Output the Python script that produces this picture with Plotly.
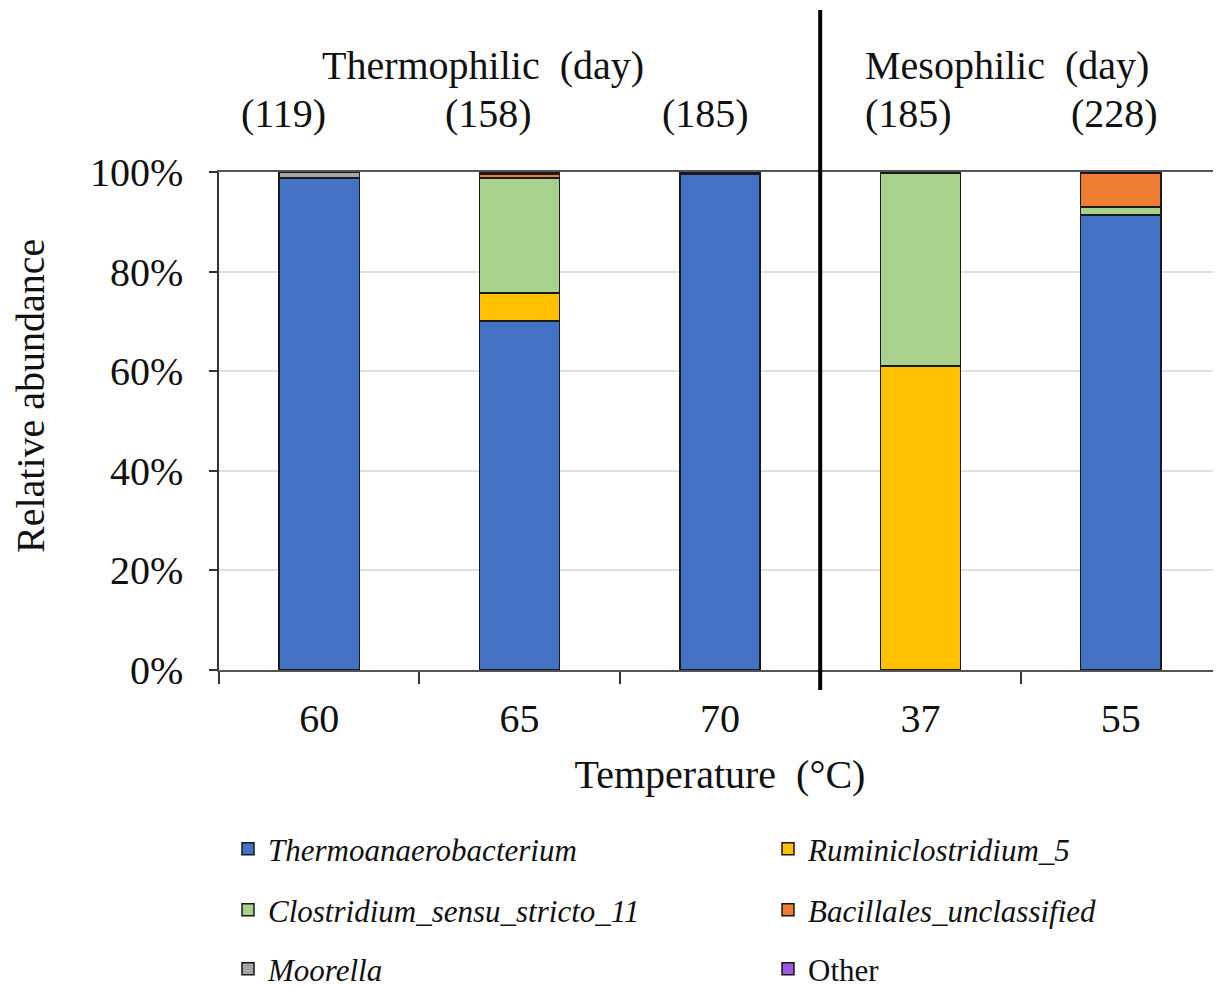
import plotly.graph_objects as go

temps = ["60", "65", "70", "37", "55"]
days = ["(119)", "(158)", "(185)", "(185)", "(228)"]
groups = ["Thermophilic  (day)", "Mesophilic  (day)"]

taxa = ["Thermoanaerobacterium", "Ruminiclostridium_5", "Clostridium_sensu_stricto_11",
        "Bacillales_unclassified", "Moorella", "Other"]
thermo = [98.8, 70.1, 99.5, 0.0, 91.4]
rumini = [0.0, 5.6, 0.0, 61.0, 0.0]
clostr = [0.0, 23.1, 0.0, 38.7, 1.6]
bacill = [0.0, 0.8, 0.0, 0.0, 6.7]
moorel = [1.2, 0.2, 0.3, 0.2, 0.2]
other = [0.0, 0.2, 0.2, 0.1, 0.1]
series = [thermo, rumini, clostr, bacill, moorel, other]
colors = ["#4472C4", "#FFC000", "#A9D18E", "#ED7D31", "#A5A5A5", "#9B59E6"]
italic = [True, True, True, True, True, False]

FONT = "Liberation Serif"
OFF = 8  # default page body margin
W, H = 1221 - OFF, 989 - OFF
L, R, T, B = 219 - OFF, 0, 172 - OFF, 989 - 670
pw = W - L - R
ph = H - T - B

def px2x(px):
    return (px - OFF - L) / pw

def px2y(py):
    return (T + ph - (py - OFF)) / ph

# legend slot (column pixel x, row pixel y) for each taxon (page pixels)
leg_pos = [(228, 849), (768, 849), (228, 910), (768, 910), (228, 969), (768, 969)]

fig = go.Figure()
leg_layout = {}
for i, (name, vals, col, it) in enumerate(zip(taxa, series, colors, italic)):
    lid = "legend" if i == 0 else f"legend{i + 1}"
    fig.add_trace(go.Bar(
        x=temps, y=vals, name=(f"<i>{name}</i>" if it else name),
        marker=dict(color=col, line=dict(color="#1a1a1a", width=1.5)),
        width=0.4, legend=lid, hoverinfo="skip", showlegend=True))
    lx, ly = leg_pos[i]
    leg_layout[lid] = dict(x=px2x(lx), y=px2y(ly), xanchor="left", yanchor="middle",
                           orientation="v", font=dict(family=FONT, size=31, color="#111"),
                           bgcolor="rgba(0,0,0,0)", itemclick=False, borderwidth=0)
fig.update_layout(showlegend=True, **leg_layout)

# Top annotations
day_px = [283, 488, 705, 908, 1114]
annots = []
for d, p in zip(days, day_px):
    annots.append(dict(text=d, x=px2x(p), y=px2y(113), xref="paper", yref="paper",
                       showarrow=False, xanchor="center", yanchor="middle",
                       font=dict(family=FONT, size=40, color="#111")))
for g, p in zip(groups, [483, 1007]):
    annots.append(dict(text=g, x=px2x(p), y=px2y(65), xref="paper", yref="paper",
                       showarrow=False, xanchor="center", yanchor="middle",
                       font=dict(family=FONT, size=40, color="#111")))
annots.append(dict(text="Relative abundance", x=px2x(30), y=px2y(396), xref="paper",
                   yref="paper", showarrow=False, textangle=-90, xanchor="center",
                   yanchor="middle", font=dict(family=FONT, size=40, color="#111")))
fig.update_layout(annotations=annots)

# Divider between thermophilic and mesophilic groups
fig.add_shape(type="line", xref="x", yref="paper", x0=2.5, x1=2.5,
              y0=px2y(690), y1=px2y(10), line=dict(color="black", width=4))

fig.update_layout(
    width=W, height=H,
    margin=dict(l=L, r=R, t=T, b=B, pad=0, autoexpand=False),
    barmode="stack",
    plot_bgcolor="white", paper_bgcolor="white",
    font=dict(family=FONT, size=40, color="#111"),
    xaxis=dict(type="category", tickson="boundaries", ticks="outside", ticklen=12,
               tickcolor="#333", tickwidth=1.5, showline=True, linecolor="#555",
               linewidth=2, mirror=True, showgrid=False, ticklabelstandoff=12,
               title=dict(text="Temperature  (°C)", standoff=20,
                          font=dict(family=FONT, size=40)),
               range=[-0.5, 4.5]),
    yaxis=dict(range=[0, 100], dtick=20, ticksuffix="%", ticks="outside", ticklen=8,
               tickcolor="#333", tickwidth=1.5, showline=True, linecolor="#333",
               linewidth=1.5, showgrid=True, gridcolor="#e0e0e0", gridwidth=1.5,
               zeroline=False, ticklabelstandoff=18),
)

fig.write_html("out.html")
